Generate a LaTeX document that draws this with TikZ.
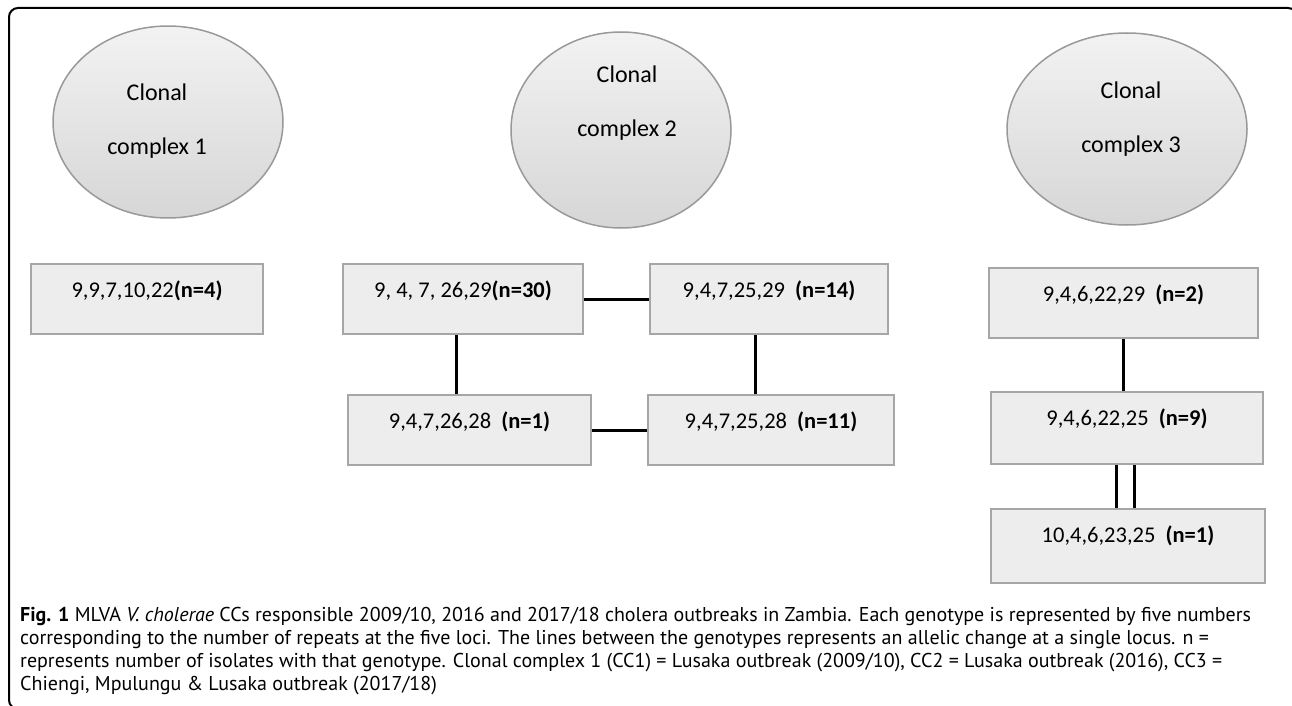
\documentclass[tikz,border=0pt]{standalone}
\usepackage{fontspec}
\setmainfont{Carlito}
\newfontfamily\capfont{PT Sans}
\usetikzlibrary{shapes.geometric}

\tikzset{
  clonal/.style={ellipse, draw=gray!80, line width=1.5pt, top color=gray!10, bottom color=gray!32, inner sep=0pt},
  cctext/.style={align=center, inner sep=0pt, font=\fontsize{24}{54}\selectfont},
  geno/.style={draw=gray!70, line width=2pt, fill=gray!14, anchor=north west, inner xsep=0pt, inner ysep=0pt,
    text height=33pt, text depth=37pt, font=\fontsize{22.5}{27}\selectfont},
  link/.style={line width=3pt},
}

\begin{document}
\begin{tikzpicture}[x=1pt,y=-1pt]
\useasboundingbox (0,0) rectangle (1292,706);
\fill[white] (0,0) rectangle (1292,706);
\begin{scope}
\clip (0,0) rectangle (1292,706);
\draw[line width=2pt, rounded corners=9pt] (9,8) rectangle (1297,709);
\end{scope}

% clonal complexes
\node[clonal, minimum width=230pt, minimum height=192pt] (cc1) at (168,122) {};
\node[clonal, minimum width=220pt, minimum height=196pt] (cc2) at (621,130) {};
\node[clonal, minimum width=240pt, minimum height=192pt] (cc3) at (1127,129) {};
\node[cctext] (cc1t) at (157,121) {Clonal\\complex 1};
\node[cctext] (cc2t) at (627,103) {Clonal\\complex 2};
\node[cctext] (cc3t) at (1131,119) {Clonal\\complex 3};

% genotypes
\node[geno, minimum width=232pt] (g1) at (30,263) {9,9,7,10,22\textbf{(n=4)}};
\node[geno, minimum width=240pt] (g2) at (342,263) {9, 4, 7, 26,29\textbf{(n=30)}};
\node[geno, minimum width=238pt] (g3) at (649,263) {9,4,7,25,29~~\textbf{(n=14)}};
\node[geno, minimum width=243pt] (g4) at (347,394) {9,4,7,26,28~~\textbf{(n=1)}};
\node[geno, minimum width=246pt] (g5) at (647,394) {9,4,7,25,28~~\textbf{(n=11)}};
\node[geno, minimum width=269pt] (g6) at (988,267) {9,4,6,22,29~~\textbf{(n=2)}};
\node[geno, minimum width=272pt, text depth=39pt] (g7) at (990,391) {9,4,6,22,25~~\textbf{(n=9)}};
\node[geno, minimum width=274pt, text depth=41pt] (g8) at (990,508) {10,4,6,23,25~~\textbf{(n=1)}};

% single locus changes
\draw[link] (g2.east) -- (g3.west);
\draw[link] (g4.east) -- (g5.west);
\draw[link] ([xshift=-7pt]g2.south) -- ([xshift=-7pt]g2.south |- g4.north);
\draw[link] ([xshift=-14pt]g3.south) -- ([xshift=-14pt]g3.south |- g5.north);
\draw[link] (g6.south) -- (g6.south |- g7.north);
\foreach \dx in {-11,7}{
  \draw[link] ([xshift=\dx pt]g7.south) -- ([xshift=\dx pt]g7.south |- g8.north);
}

% caption
\node[anchor=north west, align=left, inner sep=0pt, font=\capfont\fontsize{20}{23}\selectfont] (cap) at (20,607)
{\textbf{Fig. 1} MLVA \textit{V. cholerae} CCs responsible 2009/10, 2016 and 2017/18 cholera outbreaks in Zambia. Each genotype is represented by five numbers\\
corresponding to the number of repeats at the five loci. The lines between the genotypes represents an allelic change at a single locus. n =\\
represents number of isolates with that genotype. Clonal complex 1 (CC1) = Lusaka outbreak (2009/10), CC2 = Lusaka outbreak (2016), CC3 =\\
Chiengi, Mpulungu \& Lusaka outbreak (2017/18)};

\end{tikzpicture}
\end{document}
